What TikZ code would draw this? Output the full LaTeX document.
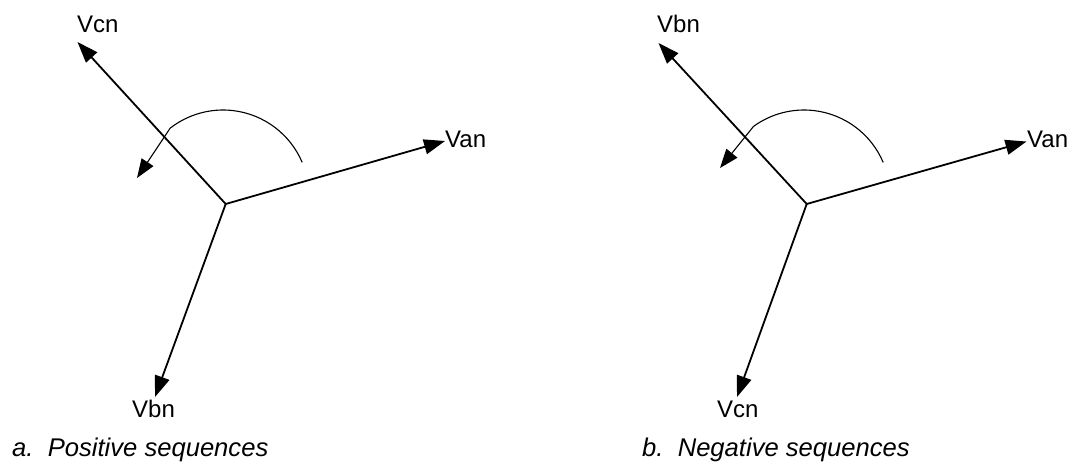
\documentclass[tikz,border=0pt]{standalone}
\usepackage{fontspec}
\setmainfont{Liberation Sans}
\usetikzlibrary{arrows.meta}
\begin{document}
\begin{tikzpicture}[x=1pt,y=-1pt,
  vec/.style={line width=1.8pt,-{Triangle[length=21pt,width=15pt]}},
  rotarrow/.style={line width=1.1pt,-{Triangle[length=19pt,width=14pt]}},
  lbl/.style={inner sep=0pt,anchor=base west,font=\fontsize{24}{28}\selectfont},
  capt/.style={inner sep=0pt,anchor=base west,font=\fontsize{25.6}{30}\selectfont\itshape}]
\useasboundingbox[fill=white] (0,0) rectangle (1083,463);

% ---- a. positive sequence ----
\coordinate (oA) at (225.7,204);
\coordinate (tAan) at (445,141);
\coordinate (tAbn) at (155,397);
\coordinate (tAcn) at (77.5,42);
\draw[vec] (oA) -- (tAan);
\draw[vec] (oA) -- (tAbn);
\draw[vec] (oA) -- (tAcn);
\node[lbl] (lAan) at (445,147) {Van};
\node[lbl] (lAbn) at (132,417) {Vbn};
\node[lbl] (lAcn) at (77,32) {Vcn};
\coordinate (arcA) at (302.2,162.4);
\coordinate (arcAtip) at (137,178);
\draw[rotarrow] (arcA) arc[start angle=-23, end angle=-128, radius=86] -- (arcAtip);
\node[capt] (capA) at (12,456) {a.\ \ Positive sequences};

% ---- b. negative sequence ----
\coordinate (oB) at (806.7,204);
\coordinate (tBan) at (1026.5,141.5);
\coordinate (tBcn) at (737,397);
\coordinate (tBbn) at (658.5,43);
\draw[vec] (oB) -- (tBan);
\draw[vec] (oB) -- (tBcn);
\draw[vec] (oB) -- (tBbn);
\node[lbl] (lBan) at (1027,147) {Van};
\node[lbl] (lBcn) at (717,417) {Vcn};
\node[lbl] (lBbn) at (657,32) {Vbn};
\coordinate (arcB) at (883.2,162.4);
\coordinate (arcBtip) at (720,168);
\draw[rotarrow] (arcB) arc[start angle=-23, end angle=-126, radius=86] -- (arcBtip);
\node[capt] (capB) at (642,456) {b.\ \ Negative sequences};
\end{tikzpicture}
\end{document}
